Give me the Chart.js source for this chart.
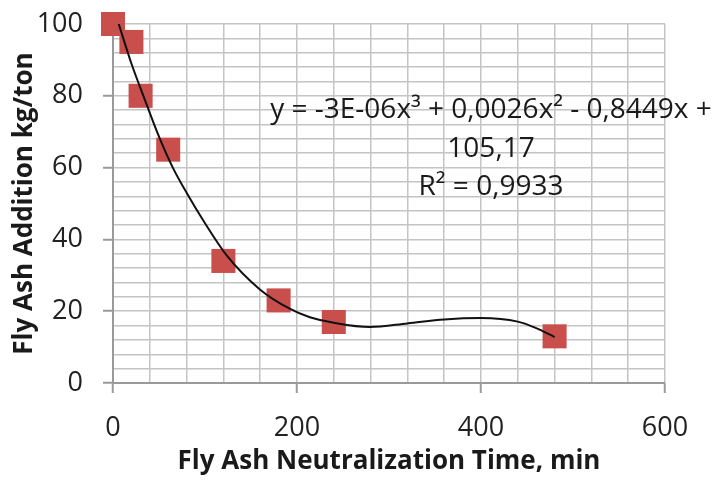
<!DOCTYPE html>
<html lang="en">
<head>
    <meta charset="UTF-8" />
    <title>Fly Ash Addition vs Neutralization Time</title>
    <script src="https://cdn.jsdelivr.net/npm/chart.js"></script>
    <style>
        body { margin: 0; background: #ffffff; }
        #wrap { width: 717px; height: 483px; }
    </style>
</head>
<body>
    <div id="wrap"><canvas id="ashChart" width="717" height="483"></canvas></div>

    <script>
        // measured points
        const timeMin = [0, 20, 30, 60, 120, 180, 240, 480];
        const ashAddition = [100, 95, 80, 65, 34, 23, 17, 13];

        // polynomial trendline
        const trendX = [6, 20, 33, 51, 65, 80, 100, 124, 160, 192, 214, 240, 279, 320, 360, 400, 440, 460, 480];
        const trendY = [100.2, 89, 80, 68, 60, 53, 44.5, 35.4, 26, 20.7, 18.3, 16.8, 15.6, 16.6, 17.7, 18.1, 17.1, 15.3, 12.8];

        const equationLines = ["y = -3E-06x³ + 0,0026x² - 0,8449x +", "105,17", "R² = 0,9933"];

        const xTicks = [0, 200, 400, 600];
        const yTicks = [0, 20, 40, 60, 80, 100];

        const gridColor = "#c4c4c4";
        const axisColor = "#9a9a9a";

        const equationPlugin = {
            id: "equationText",
            afterDatasetsDraw(chart) {
                const ctx = chart.ctx;
                ctx.save();
                ctx.fillStyle = "#1a1a1a";
                ctx.font = "28px 'Open Sans'";
                ctx.textAlign = "center";
                ctx.textBaseline = "alphabetic";
                const cx = 491;
                const baselines = [118, 157, 195];
                equationLines.forEach((t, i) => ctx.fillText(t, cx, baselines[i]));
                ctx.restore();
            }
        };

        const ctx = document.getElementById("ashChart").getContext("2d");
        const chart = new Chart(ctx, {
            type: "scatter",
            data: {
                datasets: [
                    {
                        label: "Fly ash addition",
                        data: timeMin.map((t, i) => ({ x: t, y: ashAddition[i] })),
                        pointStyle: "rect",
                        pointRadius: 17,
                        backgroundColor: "#c84f4c",
                        borderColor: "#c84f4c",
                        borderWidth: 0,
                        clip: false,
                        order: 2
                    },
                    {
                        label: "Trend",
                        type: "line",
                        data: trendX.map((t, i) => ({ x: t, y: trendY[i] })),
                        borderColor: "#111111",
                        borderWidth: 2,
                        pointRadius: 0,
                        cubicInterpolationMode: "monotone",
                        fill: false,
                        order: 1
                    }
                ]
            },
            options: {
                responsive: false,
                animation: false,
                layout: { padding: { left: 0, top: 24, right: 52, bottom: 0 } },
                plugins: {
                    legend: { display: false },
                    tooltip: { enabled: false }
                },
                scales: {
                    x: {
                        type: "linear",
                        min: 0,
                        max: 600,
                        afterFit: (s) => { s.height = 100; },
                        border: { color: axisColor, width: 2 },
                        grid: {
                            color: gridColor,
                            lineWidth: 1.5,
                            tickLength: 10,
                            tickWidth: 2,
                            tickColor: (c) => xTicks.includes(c.tick.value) ? axisColor : "rgba(0,0,0,0)"
                        },
                        ticks: {
                            stepSize: 40,
                            maxTicksLimit: 100,
                            autoSkip: false,
                            maxRotation: 0,
                            padding: 19,
                            color: "#222222",
                            font: { family: "'Open Sans'", size: 27 },
                            callback: (v) => xTicks.includes(v) ? String(v) : ""
                        },
                        title: {
                            display: true,
                            text: "Fly Ash Neutralization Time, min",
                            color: "#1a1a1a",
                            font: { family: "'Open Sans'", size: 26, weight: "bold" },
                            padding: { top: 0, bottom: 6 }
                        }
                    },
                    y: {
                        type: "linear",
                        min: 0,
                        max: 100,
                        afterFit: (s) => {
                            s.width = 113;
                            s.paddingTop = 0;
                            s.paddingBottom = 0;
                        },
                        border: { color: axisColor, width: 2 },
                        grid: {
                            color: gridColor,
                            lineWidth: 1.5,
                            tickLength: 10,
                            tickWidth: 2,
                            tickColor: (c) => yTicks.includes(c.tick.value) ? axisColor : "rgba(0,0,0,0)"
                        },
                        ticks: {
                            stepSize: 4,
                            maxTicksLimit: 100,
                            autoSkip: false,
                            padding: 20,
                            color: "#222222",
                            font: { family: "'Open Sans'", size: 27 },
                            callback: (v) => yTicks.includes(v) ? String(v) : ""
                        },
                        title: {
                            display: true,
                            text: "Fly Ash Addition kg/ton",
                            color: "#1a1a1a",
                            font: { family: "'Open Sans'", size: 26, weight: "bold" },
                            padding: { top: 9, bottom: 0 }
                        }
                    }
                }
            },
            plugins: [equationPlugin]
        });
    </script>
</body>
</html>
